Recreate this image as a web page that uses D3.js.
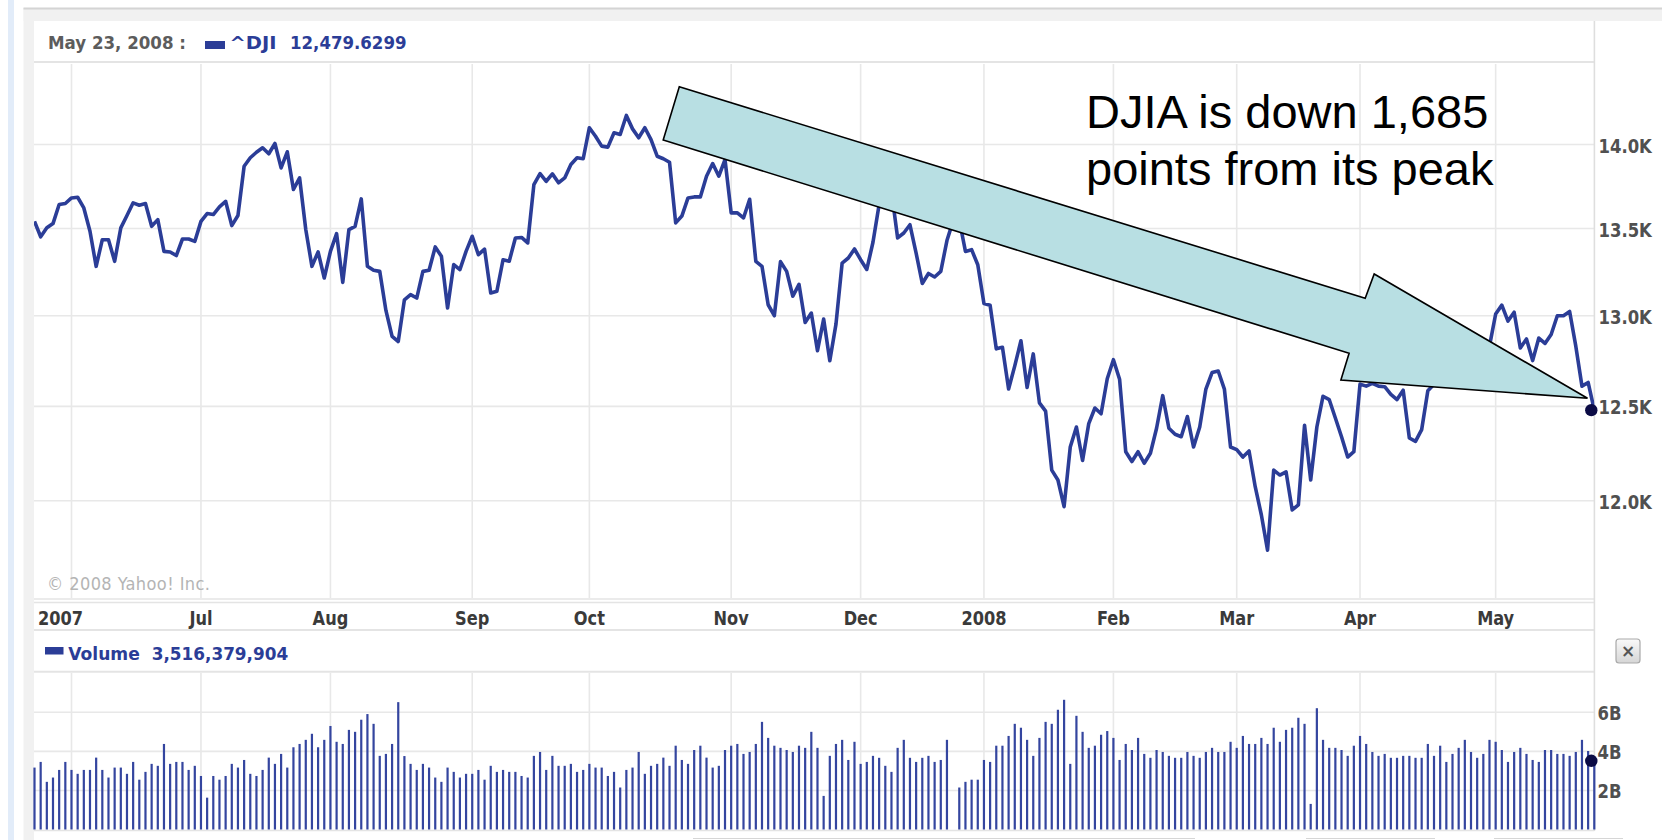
<!DOCTYPE html>
<html><head><meta charset="utf-8">
<script src="https://cdn.jsdelivr.net/npm/d3@7"></script>
<style>
html,body{margin:0;padding:0;background:#fff;overflow:hidden;}
svg{display:block;}
</style></head>
<body>
<svg id="c" width="1662" height="840"></svg>
<script>
// ---------------- DATA ----------------
const lastDateLabel = "May 23, 2008 :";
const symbol = "^DJI";
const lastCloseLabel = "12,479.6299";
const volumeLabel = "Volume";
const lastVolumeLabel = "3,516,379,904";
const copyright = "\u00A9 2008 Yahoo! Inc.";
const noteLines = ["DJIA is down 1,685", "points from its peak"];

// daily closes, trading day 0 = May 23 2007 ... 253 = May 23 2008
const closes = [
13542,13452,13504,13529,13641,13647,13680,13684,13621,13484,
13281,13435,13435,13310,13504,13576,13651,13637,13647,13513,
13552,13367,13364,13343,13439,13439,13425,13542,13588,13582,
13627,13660,13517,13576,13869,13920,13953,13980,13944,14006,
13859,13956,13730,13799,13494,13281,13364,13214,13367,13470,
13189,13494,13513,13674,13281,13258,13252,13030,12884,12856,
13090,13119,13100,13252,13258,13393,13339,13044,13291,13262,
13367,13455,13348,13380,13129,13139,13319,13310,13445,13448,
13416,13759,13825,13779,13823,13770,13799,13879,13920,13914,
14102,14050,13990,13984,14071,14061,14177,14095,14041,14102,
14030,13929,13914,13893,13533,13573,13680,13686,13686,13809,
13885,13809,13909,13592,13592,13562,13672,13310,13281,13062,
13000,13308,13252,13110,13178,12962,13015,12805,12981,12749,
12953,13300,13329,13381,13319,13263,13420,13641,13625,13720,
13445,13474,13522,13357,13183,13240,13220,13252,13430,13545,
13550,13367,13377,13290,13069,13059,12815,12824,12594,12721,
12860,12603,12787,12519,12474,12160,12108,11969,12282,12389,
12211,12407,12491,12460,12650,12755,12648,12257,12205,12257,
12196,12249,12382,12558,12382,12350,12337,12445,12282,12389,
12594,12684,12693,12594,12282,12268,12229,12261,12073,11926,
11746,12160,12134,12151,11952,11978,12398,12108,12389,12555,
12537,12437,12337,12229,12257,12621,12610,12625,12610,12607,
12565,12537,12588,12330,12312,12375,12585,12620,12845,12825,
12720,12765,12850,12890,12870,12830,12830,13010,13060,12970,
13020,12820,12870,12750,12875,12845,12895,13000,13000,13024,
12830,12610,12630,12479.63
];

// daily volume, billions of shares (0 = no bar)
const volumes = [
3.17,3.46,2.44,2.66,3.05,3.46,3.05,2.85,3.05,3.05,
3.68,3.05,2.66,3.17,3.17,2.85,3.46,2.55,2.95,3.36,
3.26,4.38,3.36,3.46,3.46,3.05,3.26,2.74,1.63,2.74,
2.55,2.74,3.36,3.17,3.56,2.85,2.74,3.05,3.68,3.36,
3.87,3.17,4.21,4.38,4.59,4.90,4.21,4.59,5.30,4.49,
4.38,5.10,5.00,5.62,5.91,5.41,3.77,3.87,4.38,6.52,
3.76,3.36,3.05,3.36,3.17,2.66,2.44,3.17,2.95,2.66,
2.85,2.85,3.05,2.55,3.26,2.95,3.05,2.95,2.95,2.74,
2.66,3.77,3.97,3.05,3.77,3.26,
3.26,3.36,2.95,3.05,3.36,3.17,3.17,2.74,2.95,2.15,
3.05,3.17,3.97,2.85,3.26,3.36,3.68,3.26,4.29,3.56,
3.36,4.07,4.29,3.68,3.17,3.26,4.07,4.29,4.38,3.87,
3.97,4.38,5.51,4.69,4.29,4.18,4.07,3.97,4.29,4.18,
5.00,4.18,1.72,3.77,4.38,4.59,3.56,4.49,3.36,3.46,
3.77,3.67,3.26,2.95,4.18,4.59,3.67,3.46,3.67,3.77,
3.46,3.56,4.59,0,2.15,2.44,2.55,2.55,3.56,3.46,
4.29,4.29,4.79,5.41,5.21,4.59,3.77,4.69,5.51,5.41,
6.13,6.64,3.36,5.82,5.00,4.18,4.29,
4.85,5.04,4.69,3.56,4.38,4.07,4.69,3.87,3.67,4.07,
3.97,3.77,3.67,3.67,3.97,3.77,3.67,3.97,4.18,3.97,
3.97,4.49,4.18,4.79,4.38,4.38,4.69,4.38,5.21,4.49,
5.10,5.21,5.72,5.41,1.31,6.21,4.59,4.18,4.18,4.07,
3.77,4.29,4.79,4.38,3.97,3.77,3.87,3.67,3.67,3.77,
3.77,3.67,3.67,4.38,3.77,4.29,3.46,3.87,4.18,4.59,
3.97,3.67,3.87,4.59,4.49,4.07,3.46,3.97,4.18,3.87,
3.56,3.46,4.07,4.07,3.87,3.87,3.77,3.97,4.59,4.02,
3.516
];

const monthLabels = ["2007","Jul","Aug","Sep","Oct","Nov","Dec","2008","Feb","Mar","Apr","May"];
const monthIndex  = [6,27,48,71,90,113,134,154,175,195,215,237];
const priceTicks = [12000,12500,13000,13500,14000];
const priceTickLabels = ["12.0K","12.5K","13.0K","13.5K","14.0K"];
const volumeTicks = [2,4,6];
const volumeTickLabels = ["2B","4B","6B"];

// ---------------- LAYOUT ----------------
const W = 1662, H = 840;
const L = 34, R = 1594.4;
const mainTop = 63, mainBot = 598;
const volTop = 672, volBot = 829.5;
const UI = "'DejaVu Sans Condensed','DejaVu Sans',sans-serif";
const blue = "#2b3d97";
const grid = "#e8e8e8";
const border = "#dedede";

const svg = d3.select("#c");

// frame
svg.append("rect").attr("x",8).attr("y",0).attr("width",6).attr("height",H).attr("fill","#e2ecf9");
svg.append("rect").attr("x",23.5).attr("y",8).attr("width",W-23.5).attr("height",13).attr("fill","#f1f1f1");
svg.append("rect").attr("x",23.5).attr("y",8).attr("width",L-23.5).attr("height",H-8).attr("fill","#f1f1f1");
svg.append("line").attr("x1",23.5).attr("x2",W).attr("y1",8.5).attr("y2",8.5).attr("stroke","#d4d4d4").attr("stroke-width",2);

// scales
const x = d3.scaleLinear().domain([0, closes.length-1]).range([34.5, 1594.3]);
const y = d3.scaleLog().domain([12000,14000]).range([500.7,144.5]);
const yv = d3.scaleLinear().domain([0,6]).range([volBot, 712.3]);

function hline(yy, x1, x2, c, w){ svg.append("line").attr("x1",x1).attr("x2",x2).attr("y1",yy).attr("y2",yy).attr("stroke",c).attr("stroke-width",w); }
function vline(xx, y1, y2, c, w){ svg.append("line").attr("x1",xx).attr("x2",xx).attr("y1",y1).attr("y2",y2).attr("stroke",c).attr("stroke-width",w); }

// grid main
const gMain = svg.append("g");
gMain.selectAll("line.v").data(monthIndex).join("line")
  .attr("x1",d=>x(d)).attr("x2",d=>x(d)).attr("y1",mainTop+1).attr("y2",mainBot)
  .attr("stroke",grid).attr("stroke-width",1.6);
gMain.selectAll("line.h").data(priceTicks).join("line").attr("class","h")
  .attr("x1",L).attr("x2",R).attr("y1",d=>y(d)).attr("y2",d=>y(d))
  .attr("stroke",grid).attr("stroke-width",1.6);
// grid volume
const gVol = svg.append("g");
gVol.selectAll("line.v").data(monthIndex).join("line")
  .attr("x1",d=>x(d)).attr("x2",d=>x(d)).attr("y1",volTop+1).attr("y2",volBot)
  .attr("stroke",grid).attr("stroke-width",1.6);
gVol.selectAll("line.h").data(volumeTicks).join("line").attr("class","h")
  .attr("x1",L).attr("x2",R).attr("y1",d=>yv(d)).attr("y2",d=>yv(d))
  .attr("stroke",grid).attr("stroke-width",1.6);

hline(62, L, R, "#e4e4e4", 2);
hline(599, L, R, "#e4e4e4", 1.6);
hline(602.5, L, R, "#e4e4e4", 1.6);
hline(630, L, R, "#e4e4e4", 2);
hline(671.7, L, R, "#e4e4e4", 2);
hline(830.5, L, R, "#e4e4e4", 1.6);
vline(R, 21, 631, border, 1.6);
vline(R, 631, 831, border, 1.6);

// bottom scrollbar hints
[[693,1195],[1306,1435],[1494,1623]].forEach(s=>hline(838.5, s[0], s[1], "#d6d6d6", 1.2));

// clip
svg.append("clipPath").attr("id","clipMain").append("rect").attr("x",L).attr("y",mainTop).attr("width",R-L).attr("height",mainBot-mainTop);

// copyright
svg.append("text").attr("x",47).attr("y",590).attr("font-family",UI).attr("font-stretch","condensed")
  .attr("font-size",18).attr("fill","#b4b4b4").attr("textLength",163).attr("lengthAdjust","spacing").text(copyright);

// price line
const line = d3.line().x((d,i)=>x(i)).y(d=>y(d));
svg.append("path").datum(closes).attr("d",line).attr("fill","none").attr("stroke",blue)
  .attr("stroke-width",3.6).attr("stroke-linejoin","round").attr("clip-path","url(#clipMain)");

// volume bars
svg.append("g").selectAll("rect").data(volumes).join("rect")
  .attr("x",(d,i)=>x(i)-1.1).attr("width",2.2)
  .attr("y",d=>yv(d)).attr("height",d=>Math.max(0,yv(0)-yv(d)))
  .attr("fill","#34459f");

// end dots
svg.append("circle").attr("cx",x(closes.length-1)-3).attr("cy",y(closes[closes.length-1])).attr("r",6.2).attr("fill","#0b0b45");
svg.append("circle").attr("cx",x(volumes.length-1)-3).attr("cy",yv(volumes[volumes.length-1])).attr("r",6.2).attr("fill","#0b0b45");

// text helpers
const txt = (g)=>g.attr("font-family",UI).attr("font-stretch","condensed").attr("font-weight","bold");

// y axis labels (slightly tall bitmap-like font)
svg.append("g").selectAll("text").data(priceTicks).join("text").call(txt)
  .attr("transform",d=>`translate(1598.5,${y(d)+8}) scale(1,1.06)`)
  .attr("font-size",18.3).attr("fill","#505050").text((d,i)=>priceTickLabels[i]);
svg.append("g").selectAll("text").data(volumeTicks).join("text").call(txt)
  .attr("transform",d=>`translate(1597.5,${yv(d)+8}) scale(1,1.06)`)
  .attr("font-size",18.3).attr("fill","#505050").text((d,i)=>volumeTickLabels[i]);

// x axis labels
svg.append("g").selectAll("text").data(monthIndex).join("text").call(txt)
  .attr("transform",(d,i)=>`translate(${i===0 ? 38 : x(d)},625) scale(1,1.1)`)
  .attr("text-anchor",(d,i)=> i===0 ? "start":"middle")
  .attr("font-size",18).attr("fill","#3a3a3a").text((d,i)=>monthLabels[i]);

// header
function htext(s, x0, y0, len, col){
  svg.append("text").call(txt).attr("x",x0).attr("y",y0).attr("font-size",18.5).attr("fill",col)
    .attr("textLength",len).attr("lengthAdjust","spacingAndGlyphs").text(s);
}
htext(lastDateLabel, 48, 49, 138, "#5c5c5c");
svg.append("rect").attr("x",205).attr("y",41).attr("width",20).attr("height",8).attr("fill",blue);
htext(symbol, 229.5, 49, 47, blue);
htext(lastCloseLabel, 290, 49, 116.5, blue);

svg.append("rect").attr("x",45).attr("y",647).attr("width",18.5).attr("height",7.5).attr("fill",blue);
htext(volumeLabel, 68.3, 660, 71.5, blue);
htext(lastVolumeLabel, 151.7, 660, 136.5, blue);

// close button
const defs = svg.append("defs");
const gr = defs.append("linearGradient").attr("id","btn").attr("x1",0).attr("x2",0).attr("y1",0).attr("y2",1);
gr.append("stop").attr("offset","0%").attr("stop-color","#fafafa");
gr.append("stop").attr("offset","100%").attr("stop-color","#d6d6d6");
svg.append("rect").attr("x",1616).attr("y",639).attr("width",24).attr("height",24).attr("rx",3)
  .attr("fill","url(#btn)").attr("stroke","#a9a9a9").attr("stroke-width",1.2);
svg.append("text").attr("x",1628).attr("y",657).attr("text-anchor","middle").attr("font-family","'DejaVu Sans',sans-serif")
  .attr("font-weight","bold").attr("font-size",17).attr("fill","#555").text("\u00D7");

// annotation arrow
const arrowPts = [[679.3,86.7],[1365.2,298.3],[1374.2,274],[1587.5,398.3],[1340.9,380],[1349.1,353.3],[663.2,140]];
svg.append("polygon").attr("points",arrowPts.map(p=>p.join(",")).join(" "))
  .attr("fill","#b8dfe3").attr("stroke","#000").attr("stroke-width",1.6).attr("stroke-linejoin","miter");

svg.append("g").selectAll("text").data(noteLines).join("text")
  .attr("x",1086).attr("y",(d,i)=>128+i*57).attr("font-family","'Liberation Sans',Arial,sans-serif")
  .attr("font-size",47).attr("fill","#000").text(d=>d);
</script>
</body></html>
